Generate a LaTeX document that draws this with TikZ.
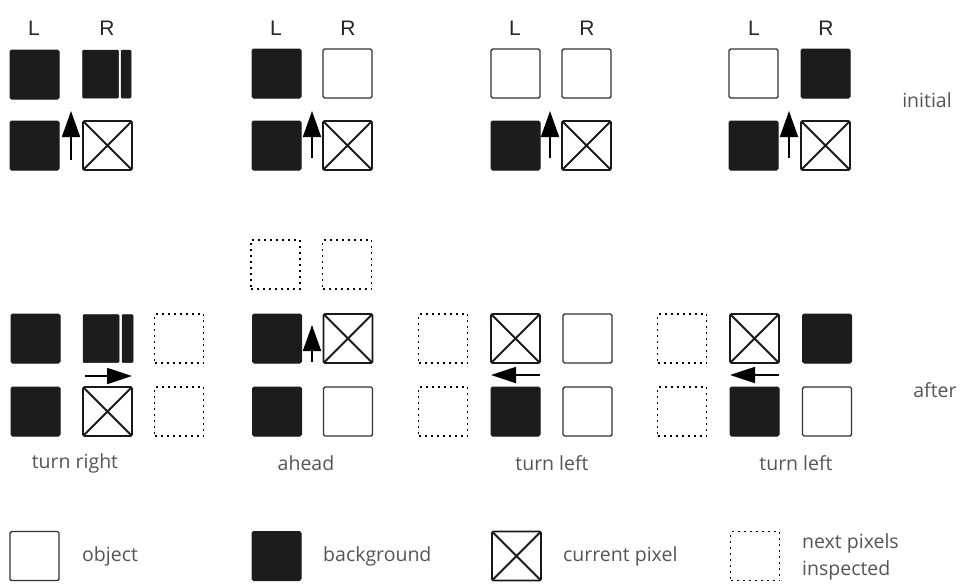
\documentclass[tikz,border=0pt]{standalone}
\usepackage{fontspec}
\setmainfont{Open Sans}
\newfontfamily\labfont{Liberation Sans}
\usetikzlibrary{arrows.meta}
\definecolor{bgfill}{HTML}{1C1C1C}
\definecolor{txtgray}{HTML}{555555}
\tikzset{
  px/.style={minimum width=49pt, minimum height=49pt, inner sep=0pt, outer sep=0pt, rounded corners=1.5pt},
  objbox/.style={px, draw=black!80, line width=1.4pt, fill=white},
  bgbox/.style={px, draw=bgfill, line width=1pt, fill=bgfill},
  curbox/.style={px, draw=black!90, line width=1.8pt,
    path picture={\draw[line width=1.8pt, black!90] (path picture bounding box.north west) -- (path picture bounding box.south east)
      (path picture bounding box.north east) -- (path picture bounding box.south west);}},
  nxtbox/.style={px, rounded corners=0pt, draw=black, line width=1.6pt, dash pattern=on 2pt off 4pt},
  barbox/.style={inner sep=0pt, outer sep=0pt, fill=bgfill, draw=bgfill, line width=0.5pt, rounded corners=1pt},
  movearrow/.style={line width=1.8pt, -{Triangle[length=26pt, width=18pt]}},
  hmovearrow/.style={line width=1.8pt, -{Triangle[length=25pt, width=16pt]}},
  lrlabel/.style={font=\labfont\fontsize{21}{24}\selectfont, text=black!85, inner sep=0pt},
  caption/.style={font=\fontsize{19.5}{22}\selectfont, text=txtgray, inner sep=0pt},
  legtext/.style={font=\fontsize{19.5}{22}\selectfont, text=txtgray, inner sep=0pt, anchor=west},
}
\begin{document}
\begin{tikzpicture}[x=1pt, y=-1pt]
\useasboundingbox (0,0) rectangle (968,584);
% ---------------- initial row ----------------
% group 1
\node[lrlabel] (l1) at (34,28) {L};
\node[lrlabel] (r1) at (107,28) {R};
\node[bgbox] (g1a) at (34.5,74.5) {};
\node[barbox, minimum width=36pt, minimum height=48pt] (g1b) at (100.5,74) {};
\node[barbox, minimum width=10pt, minimum height=48pt] (g1bb) at (126,74) {};
\node[bgbox] (g1c) at (34.5,145.5) {};
\node[curbox] (g1d) at (107.5,145.5) {};
\coordinate (g1s) at (71,160);
\coordinate (g1t) at (71,111);
\draw[movearrow] (g1s) -- (g1t);
% group 2
\node[lrlabel] (l2) at (276,28) {L};
\node[lrlabel] (r2) at (348,28) {R};
\node[bgbox] (g2a) at (276.5,73.5) {};
\node[objbox] (g2b) at (347.5,73.5) {};
\node[bgbox] (g2c) at (276.5,145.5) {};
\node[curbox] (g2d) at (347.5,145.5) {};
\coordinate (g2s) at (312,158);
\coordinate (g2t) at (312,111);
\draw[movearrow] (g2s) -- (g2t);
% group 3
\node[lrlabel] (l3) at (515,28) {L};
\node[lrlabel] (r3) at (587,28) {R};
\node[objbox] (g3a) at (515.5,73.5) {};
\node[objbox] (g3b) at (586.5,73.5) {};
\node[bgbox] (g3c) at (515.5,145.5) {};
\node[curbox] (g3d) at (586.5,145.5) {};
\coordinate (g3s) at (550,158);
\coordinate (g3t) at (550,111);
\draw[movearrow] (g3s) -- (g3t);
% group 4
\node[lrlabel] (l4) at (754,28) {L};
\node[lrlabel] (r4) at (826,28) {R};
\node[objbox] (g4a) at (753.5,73.5) {};
\node[bgbox] (g4b) at (825.5,73.5) {};
\node[bgbox] (g4c) at (753.5,145.5) {};
\node[curbox] (g4d) at (825.5,145.5) {};
\coordinate (g4s) at (789,158);
\coordinate (g4t) at (789,111);
\draw[movearrow] (g4s) -- (g4t);
\node[caption] (initial) at (927,100) {initial};
% ---------------- after row ----------------
% group 1: turn right
\node[bgbox] (h1a) at (35.5,338.5) {};
\node[barbox, minimum width=36pt, minimum height=48pt] (h1b) at (101,338.5) {};
\node[barbox, minimum width=11pt, minimum height=48pt] (h1bb) at (127.5,338.5) {};
\node[nxtbox] (h1n1) at (179,338.5) {};
\node[bgbox] (h1c) at (35.5,411.5) {};
\node[curbox] (h1d) at (107.5,411.5) {};
\node[nxtbox] (h1n2) at (179,411.5) {};
\coordinate (h1s) at (85,376);
\coordinate (h1t) at (132,376);
\draw[hmovearrow] (h1s) -- (h1t);
\node[caption] (tr) at (75,463) {turn right};
% group 2: ahead
\node[nxtbox] (h2n1) at (275.5,264.5) {};
\node[nxtbox] (h2n2) at (347,264.5) {};
\node[bgbox] (h2a) at (277,338.5) {};
\node[curbox] (h2b) at (348,338.5) {};
\node[bgbox] (h2c) at (277,411.5) {};
\node[objbox] (h2d) at (348,411.5) {};
\coordinate (h2s) at (312,362);
\coordinate (h2t) at (312,325);
\draw[movearrow] (h2s) -- (h2t);
\node[caption] (ah) at (306,463) {ahead};
% group 3: turn left
\node[nxtbox] (h3n1) at (443,338.5) {};
\node[curbox] (h3a) at (515.5,338.5) {};
\node[objbox] (h3b) at (587.5,338.5) {};
\node[nxtbox] (h3n2) at (443,411.5) {};
\node[bgbox] (h3c) at (515.5,411.5) {};
\node[objbox] (h3d) at (587.5,411.5) {};
\coordinate (h3s) at (540,375);
\coordinate (h3t) at (491,375);
\draw[hmovearrow] (h3s) -- (h3t);
\node[caption] (tl1) at (552,463) {turn left};
% group 4: turn left
\node[nxtbox] (h4n1) at (682,338.5) {};
\node[curbox] (h4a) at (754.5,338.5) {};
\node[bgbox] (h4b) at (827,338.5) {};
\node[nxtbox] (h4n2) at (682,411.5) {};
\node[bgbox] (h4c) at (754.5,411.5) {};
\node[objbox] (h4d) at (827,411.5) {};
\coordinate (h4s) at (779,375);
\coordinate (h4t) at (730,375);
\draw[hmovearrow] (h4s) -- (h4t);
\node[caption] (tl2) at (796,463) {turn left};
\node[caption] (after) at (935,390) {after};
% ---------------- legend ----------------
\node[objbox] (k1) at (34.5,556) {};
\node[legtext] (k1t) at (82,556) {object};
\node[bgbox] (k2) at (276.5,556) {};
\node[legtext] (k2t) at (323,556) {background};
\node[curbox] (k3) at (516.5,556) {};
\node[legtext] (k3t) at (563,556) {current pixel};
\node[nxtbox] (k4) at (755,556) {};
\node[legtext] (k4t) at (802,543) {next pixels};
\node[legtext] (k4u) at (802,570) {inspected};
\end{tikzpicture}
\end{document}
